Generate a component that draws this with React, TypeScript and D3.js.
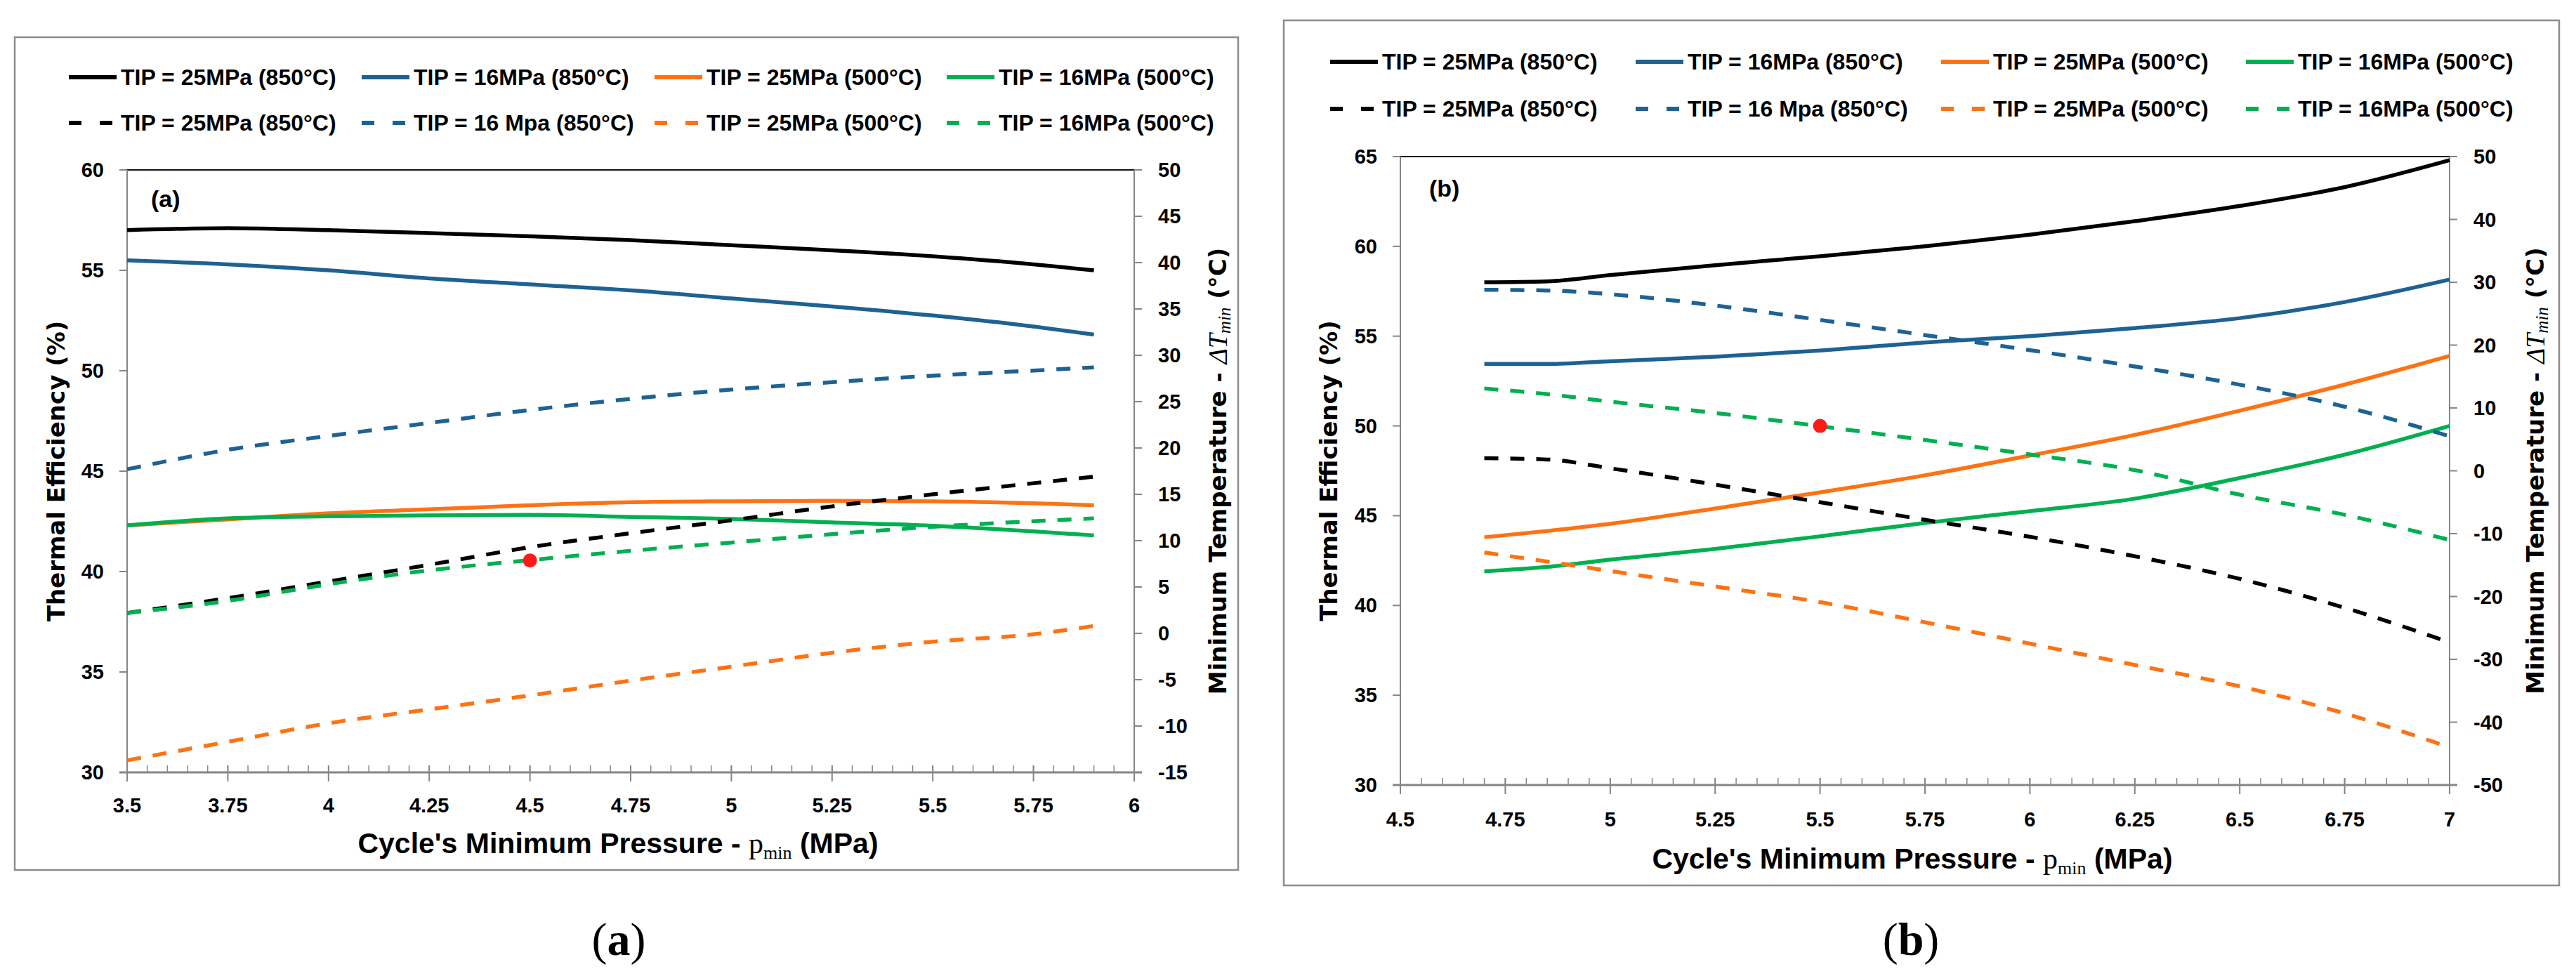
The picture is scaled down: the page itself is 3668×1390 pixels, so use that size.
import * as d3 from "d3"

// overall picture size
const W = 3668
const H = 1390

// ---------- data, panel (a) ----------
const xA = [3.5, 3.75, 4.0, 4.25, 4.5, 4.75, 5.0, 5.25, 5.5, 5.75, 5.9]
const effA_25_850 = [57.0, 57.1, 57.0, 56.85, 56.7, 56.5, 56.25, 56.0, 55.7, 55.3, 55.0]
const effA_16_850 = [55.5, 55.3, 55.0, 54.6, 54.3, 54.0, 53.6, 53.2, 52.75, 52.2, 51.8]
const effA_25_500 = [42.3, 42.6, 42.9, 43.1, 43.3, 43.45, 43.5, 43.52, 43.5, 43.4, 43.3]
const effA_16_500 = [42.3, 42.65, 42.75, 42.8, 42.82, 42.72, 42.62, 42.45, 42.28, 42.0, 41.8]
const dtA_25_850 = [2.2, 3.8, 5.6, 7.4, 9.3, 10.8, 12.2, 13.7, 15.0, 16.2, 16.9]
const dtA_16_850 = [17.7, 19.8, 21.3, 22.7, 24.1, 25.3, 26.3, 27.1, 27.8, 28.35, 28.7]
const dtA_25_500 = [-13.7, -11.7, -9.7, -8.2, -6.7, -5.1, -3.6, -2.1, -0.9, -0.1, 0.8]
const dtA_16_500 = [2.2, 3.5, 5.3, 6.8, 7.9, 8.9, 9.8, 10.7, 11.5, 12.1, 12.4]
const markA = { x: 4.5, eff: 40.55 }

// ---------- data, panel (b) ----------
const xB = [4.7, 4.85, 5.0, 5.25, 5.5, 5.75, 6.0, 6.25, 6.5, 6.75, 7.0]
const effB_25_850 = [58.0, 58.05, 58.4, 58.95, 59.45, 60.0, 60.65, 61.4, 62.25, 63.3, 64.8]
const effB_16_850 = [53.45, 53.45, 53.6, 53.85, 54.2, 54.65, 55.0, 55.45, 56.0, 56.9, 58.15]
const effB_25_500 = [43.8, 44.15, 44.55, 45.4, 46.3, 47.25, 48.35, 49.5, 50.85, 52.3, 53.9]
const effB_16_500 = [41.9, 42.15, 42.55, 43.15, 43.85, 44.6, 45.25, 45.95, 47.1, 48.4, 50.0]
const dtB_25_850 = [2.0, 1.8, 0.4, -2.2, -5.0, -7.8, -10.5, -13.6, -17.2, -21.8, -27.3]
const dtB_16_850 = [28.8, 28.7, 28.1, 26.3, 24.0, 21.6, 19.2, 16.6, 13.7, 10.2, 5.5]
const dtB_25_500 = [-13.0, -14.45, -15.95, -18.4, -20.9, -24.1, -27.5, -30.9, -34.3, -38.6, -44.0]
const dtB_16_500 = [13.1, 12.2, 11.0, 9.2, 7.1, 4.9, 2.6, 0.1, -3.8, -7.0, -11.0]
const markB = { x: 5.5, eff: 50.0 }

// ---------- ticks & labels ----------
const ticksXA = [3.5, 3.75, 4, 4.25, 4.5, 4.75, 5, 5.25, 5.5, 5.75, 6]
const ticksXB = [4.5, 4.75, 5, 5.25, 5.5, 5.75, 6, 6.25, 6.5, 6.75, 7]
const ticksLeftA = [30, 35, 40, 45, 50, 55, 60]
const ticksRightA = [-15, -10, -5, 0, 5, 10, 15, 20, 25, 30, 35, 40, 45, 50]
const ticksLeftB = [30, 35, 40, 45, 50, 55, 60, 65]
const ticksRightB = [-50, -40, -30, -20, -10, 0, 10, 20, 30, 40, 50]

const legendSolid = ["TIP = 25MPa (850°C)", "TIP = 16MPa (850°C)", "TIP = 25MPa (500°C)", "TIP = 16MPa (500°C)"]
const legendDashed = ["TIP = 25MPa (850°C)", "TIP = 16 Mpa (850°C)", "TIP = 25MPa (500°C)", "TIP = 16MPa (500°C)"]
const colors = ["#000000", "#1d6293", "#ff7212", "#00b050"]

const SANS = "'Liberation Sans', Arial, sans-serif"
const TITLE = "'DejaVu Sans', Verdana, sans-serif"
const SERIF = "'Liberation Serif', 'Times New Roman', serif"
const AXIS_GREY = "#868686"

type Cfg = {
  tag: string
  box: { x: number; y: number; w: number; h: number }
  plot: { l: number; r: number; t: number; b: number }
  xs: number[]
  eff: number[][]
  dt: number[][]
  mark: { x: number; eff: number }
  xTicks: number[]
  leftTicks: number[]
  rightTicks: number[]
  legendX: number[]
  legendY: number[]
  leftTitleX: number
  rightTitleX: number
  xTitle: { x: number; y: number }
  xLabelY: number
  caption: { x: number; y: number }
  inner: { x: number; y: number }
}

const cfgA: Cfg = {
  tag: "a",
  box: { x: 21, y: 53, w: 1742, h: 1186 },
  plot: { l: 181, r: 1615, t: 242, b: 1100 },
  xs: xA,
  eff: [effA_25_850, effA_16_850, effA_25_500, effA_16_500],
  dt: [dtA_25_850, dtA_16_850, dtA_25_500, dtA_16_500],
  mark: markA,
  xTicks: ticksXA,
  leftTicks: ticksLeftA,
  rightTicks: ticksRightA,
  legendX: [98, 515, 932, 1348],
  legendY: [110, 175],
  leftTitleX: 80,
  rightTitleX: 1734,
  xTitle: { x: 880, y: 1215 },
  xLabelY: 1157,
  caption: { x: 881, y: 1360 },
  inner: { x: 215, y: 295 },
}

const cfgB: Cfg = {
  tag: "b",
  box: { x: 1828, y: 29, w: 1816, h: 1232 },
  plot: { l: 1994, r: 3488, t: 223, b: 1118 },
  xs: xB,
  eff: [effB_25_850, effB_16_850, effB_25_500, effB_16_500],
  dt: [dtB_25_850, dtB_16_850, dtB_25_500, dtB_16_500],
  mark: markB,
  xTicks: ticksXB,
  leftTicks: ticksLeftB,
  rightTicks: ticksRightB,
  legendX: [1894, 2329, 2764, 3198],
  legendY: [88, 155],
  leftTitleX: 1892,
  rightTitleX: 3610,
  xTitle: { x: 2723, y: 1237 },
  xLabelY: 1177,
  caption: { x: 2721, y: 1360 },
  inner: { x: 2035, y: 280 },
}

function Panel({ c }: { c: Cfg }) {
  const { plot } = c
  const x = d3.scaleLinear().domain([c.xTicks[0], c.xTicks[c.xTicks.length - 1]]).range([plot.l, plot.r])
  const yL = d3.scaleLinear().domain([c.leftTicks[0], c.leftTicks[c.leftTicks.length - 1]]).range([plot.b, plot.t])
  const yR = d3.scaleLinear().domain([c.rightTicks[0], c.rightTicks[c.rightTicks.length - 1]]).range([plot.b, plot.t])

  const lineL = d3.line<number>().x((_, i) => x(c.xs[i])).y(d => yL(d)).curve(d3.curveMonotoneX)
  const lineR = d3.line<number>().x((_, i) => x(c.xs[i])).y(d => yR(d)).curve(d3.curveMonotoneX)

  // minor ticks every 0.05 between the labelled ones
  const [x0, x1] = x.domain()
  const minor = d3.range(Math.round((x1 - x0) / 0.05) + 1).map(i => x0 + i * 0.05)

  const cy = (plot.t + plot.b) / 2

  return (
    <g>
      <rect x={c.box.x} y={c.box.y} width={c.box.w} height={c.box.h} fill="#fff" stroke="#8c8c8c" strokeWidth={2.5} />

      {/* legend */}
      {[legendSolid, legendDashed].map((row, ri) =>
        row.map((lab, i) => {
          const lx = c.legendX[i]
          const ly = c.legendY[ri]
          return (
            <g key={`lg${ri}-${i}`}>
              <line x1={lx} x2={lx + 68} y1={ly} y2={ly} stroke={colors[i]} strokeWidth={6}
                strokeDasharray={ri === 1 ? "18 26" : undefined} />
              <text x={lx + 74} y={ly + 11} fontFamily={SANS} fontWeight="bold" fontSize={32} fill="#000">{lab}</text>
            </g>
          )
        })
      )}

      {/* frame */}
      <line x1={plot.l} x2={plot.r} y1={plot.t} y2={plot.t} stroke="#111" strokeWidth={2} />
      <line x1={plot.l} x2={plot.l} y1={plot.t} y2={plot.b} stroke={AXIS_GREY} strokeWidth={2} />
      <line x1={plot.r} x2={plot.r} y1={plot.t} y2={plot.b} stroke={AXIS_GREY} strokeWidth={2} />

      {c.leftTicks.map(t => (
        <g key={`lt${t}`}>
          <line x1={plot.l - 11} x2={plot.l} y1={yL(t)} y2={yL(t)} stroke={AXIS_GREY} strokeWidth={2} />
          <text x={plot.l - 33} y={yL(t) + 10} textAnchor="end" fontFamily={SANS} fontWeight="bold" fontSize={29}>{t}</text>
        </g>
      ))}
      {c.rightTicks.map(t => (
        <g key={`rt${t}`}>
          <line x1={plot.r} x2={plot.r + 11} y1={yR(t)} y2={yR(t)} stroke={AXIS_GREY} strokeWidth={2} />
          <text x={plot.r + 34} y={yR(t) + 10} textAnchor="start" fontFamily={SANS} fontWeight="bold" fontSize={29}>{t}</text>
        </g>
      ))}

      {minor.map((m, i) => (
        <line key={`mn${i}`} x1={x(m)} x2={x(m)} y1={plot.b - 10} y2={plot.b} stroke={AXIS_GREY} strokeWidth={1.5} />
      ))}
      {c.xTicks.map(t => (
        <g key={`xt${t}`}>
          <line x1={x(t)} x2={x(t)} y1={plot.b - 10} y2={plot.b + 13} stroke={AXIS_GREY} strokeWidth={2} />
          <text x={x(t)} y={c.xLabelY} textAnchor="middle" fontFamily={SANS} fontWeight="bold" fontSize={29}>{String(t)}</text>
        </g>
      ))}
      <line x1={plot.l - 11} x2={plot.r + 11} y1={plot.b} y2={plot.b} stroke={AXIS_GREY} strokeWidth={3} />

      {/* series: efficiency (solid, left axis), ΔTmin (dashed, right axis) */}
      {c.eff.map((s, i) => (
        <path key={`e${i}`} d={lineL(s) ?? ""} fill="none" stroke={colors[i]} strokeWidth={5.5} />
      ))}
      {c.dt.map((s, i) => (
        <path key={`d${i}`} d={lineR(s) ?? ""} fill="none" stroke={colors[i]} strokeWidth={5.5} strokeDasharray="20 17" />
      ))}
      <circle cx={x(c.mark.x)} cy={yL(c.mark.eff)} r={10} fill="#ff1a1a" />

      <text x={c.inner.x} y={c.inner.y} fontFamily={SANS} fontWeight="bold" fontSize={34}>({c.tag})</text>

      {/* axis titles */}
      <text transform={`translate(${c.leftTitleX},${cy}) rotate(-90)`} textAnchor="middle" dominantBaseline="central"
        fontFamily={TITLE} fontWeight="bold" fontSize={34}>Thermal Efficiency (%)</text>
      <text transform={`translate(${c.rightTitleX},${cy}) rotate(-90)`} textAnchor="middle" dominantBaseline="central"
        fontFamily={TITLE} fontWeight="bold" fontSize={34}>
        Minimum Temperature - <tspan fontFamily={SERIF} fontStyle="italic" fontWeight="normal" fontSize={38}>ΔT</tspan>
        <tspan fontFamily={SERIF} fontStyle="italic" fontWeight="normal" fontSize={25} dy={9}>min</tspan>
        <tspan dy={-9}> (°C)</tspan>
      </text>
      <text x={c.xTitle.x} y={c.xTitle.y} textAnchor="middle" fontFamily={SANS} fontWeight="bold" fontSize={41}>
        Cycle's Minimum Pressure - <tspan fontFamily={SERIF} fontWeight="normal" fontSize={42}>p</tspan>
        <tspan fontFamily={SERIF} fontWeight="normal" fontSize={26} dy={8}>min</tspan>
        <tspan dy={-8}> (MPa)</tspan>
      </text>

      {/* caption under the panel */}
      <text x={c.caption.x} y={c.caption.y} textAnchor="middle" fontFamily={SERIF} fontSize={66}>
        (<tspan fontWeight="bold">{c.tag}</tspan>)
      </text>
    </g>
  )
}

export default function App() {
  return (
    <div style={{ position: "absolute", left: 0, top: 0 }}>
      <svg width={W} height={H} viewBox={`0 0 ${W} ${H}`} style={{ display: "block", background: "#fff" }}>
        <rect x={0} y={0} width={W} height={H} fill="#fff" />
        <Panel c={cfgA} />
        <Panel c={cfgB} />
      </svg>
    </div>
  )
}
